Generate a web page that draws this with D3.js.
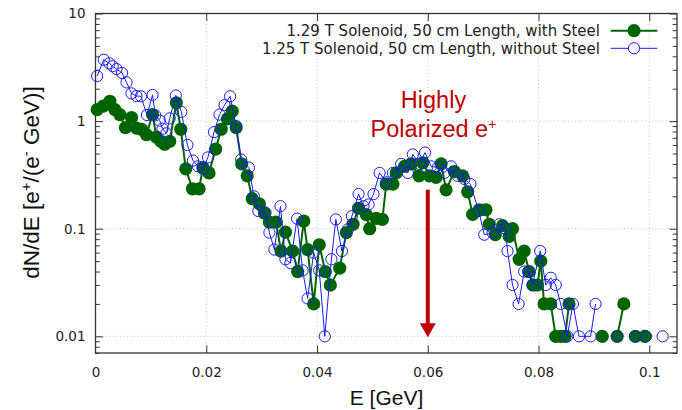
<!DOCTYPE html>
<html><head><meta charset="utf-8">
<script src="https://cdn.jsdelivr.net/npm/d3@7"></script>
<style>html,body{margin:0;padding:0;background:#fff;}svg{display:block;}</style>
</head><body>
<svg id="c" width="682" height="410"></svg>
<script>
// ---- data ----
const seriesNames = ["1.29 T Solenoid, 50 cm Length, with Steel", "1.25 T Solenoid, 50 cm Length, without Steel"];
const xTicks = [0, 0.02, 0.04, 0.06, 0.08, 0.1];
const xTickLabels = ["0", "0.02", "0.04", "0.06", "0.08", "0.1"];
const yTicks = [0.01, 0.1, 1, 10];
const yTickLabels = ["0.01", "0.1", "1", "10"];

// with Steel (green). null = empty bin (line break)
const steelE = [0.0003,0.0014,0.0026,0.0035,0.0044,0.0054,0.0065,0.0074,0.0083,0.0092,0.0103,0.0110,0.0118,0.0125,0.0134,0.0146,0.0154,0.0163,0.0175,0.0187,0.0194,0.0205,0.0217,0.0227,0.0238,0.0247,0.0254,0.0264,0.0274,0.0283,0.0296,0.0305,0.0314,0.0326,0.0335,0.0343,0.0356,0.0365,0.0376,0.0383,0.0394,0.0404,0.0415,0.0424,0.0441,0.0453,0.0465,0.0475,0.0489,0.0495,0.0507,0.0518,0.0525,0.0537,0.0543,0.0558,0.0570,0.0584,0.0591,0.0603,0.0615,0.0624,0.0633,0.0648,0.0663,0.0672,0.0681,0.0693,0.0705,0.0711,0.0722,0.0735,0.0747,0.0753,0.0765,0.0774,0.0783,0.0790,0.0798,0.0804,0.0810,0.0822,0.0831,0.0840,0.0848,0.0855,0.0880,0.0915,0.0930,0.0942,0.0954,0.0965,0.0975,0.0992];
const steelV = [1.28,1.38,1.53,1.28,1.15,0.87,1.08,0.86,0.84,0.75,1.15,0.71,0.65,0.61,0.65,1.48,0.84,0.36,0.235,0.235,0.37,0.33,0.55,0.84,1.05,1.24,0.87,0.40,0.31,0.19,0.17,0.14,0.115,0.115,0.062,0.093,0.062,0.040,0.118,0.064,0.020,0.071,0.040,0.030,0.043,0.092,0.11,0.155,0.135,0.10,0.125,0.122,0.26,0.26,0.33,0.38,0.40,0.31,0.41,0.31,0.30,0.40,0.23,0.34,0.31,0.22,0.136,0.15,0.15,0.11,0.088,0.107,0.085,0.10,0.052,0.062,0.04,0.03,0.03,0.05,0.02,0.02,0.01,0.01,0.01,0.02,null,0.01,null,0.01,0.02,null,0.01,0.01];

// without Steel (blue)
const noSteelE = [0.0003,0.0015,0.0025,0.0031,0.0038,0.0048,0.0056,0.0065,0.0074,0.0082,0.0093,0.0103,0.0108,0.0116,0.0121,0.0128,0.0134,0.0145,0.0155,0.0166,0.0176,0.0185,0.0194,0.0203,0.0214,0.0224,0.0233,0.0243,0.0254,0.0263,0.0277,0.0286,0.0294,0.0307,0.0314,0.0323,0.0334,0.0343,0.0352,0.0364,0.0374,0.0383,0.0394,0.0404,0.0414,0.0426,0.0434,0.0445,0.0456,0.0463,0.0475,0.0484,0.0493,0.0502,0.0513,0.0525,0.0537,0.0552,0.0564,0.0573,0.0585,0.0595,0.0606,0.0618,0.0630,0.0642,0.0654,0.0666,0.0677,0.0692,0.0702,0.0717,0.0729,0.0740,0.0744,0.0753,0.0764,0.0774,0.0781,0.0789,0.0803,0.0813,0.0822,0.0831,0.0840,0.0852,0.0862,0.0873,0.0894,0.0903,0.0920,0.0942,0.0960,0.0974,0.0985,0.0994,0.1010,0.1024];
const noSteelV = [2.62,3.72,3.44,3.24,3.05,2.80,2.29,1.81,1.71,1.70,1.14,1.75,1.13,1.01,0.85,0.77,1.06,1.73,1.22,0.60,0.43,0.38,0.36,0.46,0.79,1.15,1.41,1.70,0.90,0.44,0.37,0.20,0.146,0.141,0.092,0.064,0.162,0.052,0.048,0.124,0.041,0.0225,0.06,0.041,0.010,0.052,0.122,0.062,0.099,0.131,0.21,0.162,0.168,0.21,0.33,0.27,0.33,0.40,0.33,0.49,0.40,0.51,0.38,0.37,0.33,0.38,0.31,0.29,0.26,0.146,0.088,0.092,0.11,0.10,0.062,0.030,0.020,0.040,0.040,0.030,0.062,0.03,0.035,0.03,0.02,0.01,0.02,0.01,0.01,0.02,null,0.01,null,0.01,null,0.01,null,0.01];

const annotLines = ["Highly", "Polarized e"];
const arrowE = 0.06, arrowTop = 0.23, arrowTip = 0.0098;

// ---- layout ----
const svg = d3.select("#c");
const L = 95.5, R = 677, T = 13.5, B = 353;
const x = d3.scaleLinear().domain([0, 0.105]).range([L, R]);
const y = d3.scaleLog().domain([0.007, 10]).range([B, T]);

// grid
const g = svg.append("g");
g.selectAll("line.gx").data(xTicks.filter(d => d > 0)).join("line")
  .attr("x1", d => x(d)).attr("x2", d => x(d)).attr("y1", T).attr("y2", B)
  .attr("stroke", "#c4c4c4").attr("stroke-width", 1).attr("stroke-dasharray", "1,2.5");
g.selectAll("line.gy").data(yTicks.filter(d => d < 10)).join("line")
  .attr("x1", L).attr("x2", R).attr("y1", d => y(d)).attr("y2", d => y(d))
  .attr("stroke", "#c4c4c4").attr("stroke-width", 1).attr("stroke-dasharray", "1,2.5");

// axes (ticks inward)
const tickFont = "DejaVu Sans, sans-serif";
const axB = svg.append("g").attr("transform", `translate(0,${B})`)
  .call(d3.axisBottom(x).tickValues(xTicks).tickSize(-7.5).tickFormat((d,i) => xTickLabels[i]).tickPadding(14));
const axT = svg.append("g").attr("transform", `translate(0,${T})`)
  .call(d3.axisTop(x).tickValues(xTicks).tickSize(-7.5).tickFormat(""));
const minorY = [];
[0.001, 0.01, 0.1, 1].forEach(dec => { for (let k = 2; k <= 9; k++) { const v = dec * k; if (v >= 0.007 && v <= 10) minorY.push(v); } });
const axLmin = svg.append("g").attr("transform", `translate(${L},0)`)
  .call(d3.axisLeft(y).tickValues(minorY).tickSize(-4.3).tickFormat(""));
const axRmin = svg.append("g").attr("transform", `translate(${R},0)`)
  .call(d3.axisRight(y).tickValues(minorY).tickSize(-4.3).tickFormat(""));
const axL = svg.append("g").attr("transform", `translate(${L},0)`)
  .call(d3.axisLeft(y).tickValues(yTicks).tickSize(-7.5).tickFormat((d,i) => yTickLabels[i]).tickPadding(10));
const axR = svg.append("g").attr("transform", `translate(${R},0)`)
  .call(d3.axisRight(y).tickValues(yTicks).tickSize(-7.5).tickFormat(""));
[axB, axT, axL, axR, axLmin, axRmin].forEach(a => {
  a.select(".domain").remove();
  a.selectAll(".tick line").attr("stroke", "#333").attr("stroke-width", 1);
  a.selectAll("text").attr("font-family", tickFont).attr("font-size", 13.5).attr("fill", "#222");
});
axB.selectAll(".tick line").filter(d => d === 0).remove();
axT.selectAll(".tick line").filter(d => d === 0).remove();

// frame
svg.append("rect").attr("x", L).attr("y", T).attr("width", R - L).attr("height", B - T)
  .attr("fill", "none").attr("stroke", "#333").attr("stroke-width", 1.3);

// series
const steel = steelE.map((e, i) => ({e, v: steelV[i]}));
const noSteel = noSteelE.map((e, i) => ({e, v: noSteelV[i]}));
const line = d3.line().defined(d => d.v != null).x(d => x(d.e)).y(d => y(d.v));
const green = "#006400", blue = "#1a1aff";
const plot = svg.append("g");
plot.append("path").datum(steel).attr("d", line).attr("fill", "none").attr("stroke", green).attr("stroke-width", 2);
plot.selectAll("circle.s").data(steel.filter(d => d.v != null)).join("circle")
  .attr("cx", d => x(d.e)).attr("cy", d => y(d.v)).attr("r", 6.6).attr("fill", green);
plot.append("path").datum(noSteel).attr("d", line).attr("fill", "none").attr("stroke", blue).attr("stroke-width", 1);
plot.selectAll("circle.n").data(noSteel.filter(d => d.v != null)).join("circle")
  .attr("cx", d => x(d.e)).attr("cy", d => y(d.v)).attr("r", 5.6).attr("fill", "none")
  .attr("stroke", blue).attr("stroke-width", 1);

// legend
const lg = svg.append("g").attr("font-family", tickFont).attr("font-size", 15).attr("fill", "#222");
const legY = [30.7, 48.3];
[[green, true], [blue, false]].forEach(([c, filled], i) => {
  lg.append("text").attr("x", 600).attr("y", legY[i] + 5.4).attr("text-anchor", "end").text(seriesNames[i]);
  lg.append("line").attr("x1", 610.7).attr("x2", 657.3).attr("y1", legY[i]).attr("y2", legY[i])
    .attr("stroke", c).attr("stroke-width", filled ? 2 : 1);
  lg.append("circle").attr("cx", 634).attr("cy", legY[i]).attr("r", filled ? 6.6 : 5.6)
    .attr("fill", filled ? c : "#fff").attr("stroke", filled ? "none" : c).attr("stroke-width", 1);
});

// axis titles
const titleFont = "Liberation Sans, Arial, sans-serif";
svg.append("text").attr("x", 386.5).attr("y", 405).attr("text-anchor", "middle")
  .attr("font-family", titleFont).attr("font-size", 21).attr("fill", "#111").text("E [GeV]");
const yt = svg.append("text").attr("transform", "translate(39,182.5) rotate(-90)").attr("text-anchor", "middle")
  .attr("font-family", titleFont).attr("font-size", 22.5).attr("fill", "#111");
yt.append("tspan").text("dN/dE [e");
yt.append("tspan").attr("baseline-shift", "super").attr("font-size", 15).text("+");
yt.append("tspan").text("/(e");
yt.append("tspan").attr("baseline-shift", "super").attr("font-size", 15).text("-");
yt.append("tspan").text(" GeV)]");

// annotation
const red = "#c00000";
const at = svg.append("g").attr("font-family", titleFont).attr("font-size", 23.5).attr("fill", red).attr("text-anchor", "middle");
at.append("text").attr("x", 433.5).attr("y", 108.3).text(annotLines[0]);
const t2 = at.append("text").attr("x", 433.5).attr("y", 136.7);
t2.append("tspan").text(annotLines[1]);
t2.append("tspan").attr("baseline-shift", "super").attr("font-size", 14).text("+");
const ax0 = x(arrowE), yTop = y(arrowTop), yTip = y(arrowTip);
svg.append("line").attr("x1", ax0).attr("x2", ax0).attr("y1", yTop).attr("y2", yTip - 12)
  .attr("stroke", red).attr("stroke-width", 4);
svg.append("path").attr("d", `M${ax0 - 8},${yTip - 14} L${ax0 + 8},${yTip - 14} L${ax0},${yTip} Z`).attr("fill", red);
</script>
</body></html>
